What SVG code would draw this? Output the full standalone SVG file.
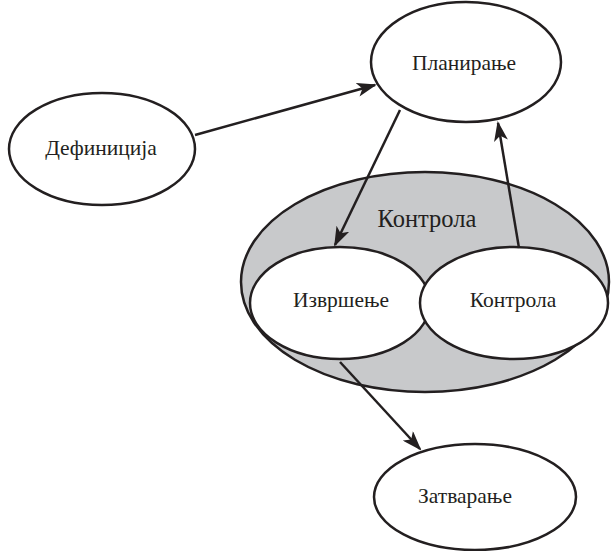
<svg xmlns="http://www.w3.org/2000/svg" width="611" height="551" viewBox="0 0 611 551">
<style>
.n{fill:#fff;stroke:#231f20;stroke-width:2.5}
.g{fill:#c8c9cb;stroke:#231f20;stroke-width:2.5}
.t{font-family:"Liberation Serif","Times New Roman",serif;font-size:21.5px;fill:#231f20;text-anchor:middle}
.c{stroke:#231f20;stroke-width:2.5;fill:none;marker-end:url(#ah)}
</style>
<defs>
<marker id="ah" viewBox="0 0 20 14" refX="18" refY="7" markerWidth="20" markerHeight="14" markerUnits="userSpaceOnUse" orient="auto">
<path d="M0,0 L20,7 L0,14 L5,7 Z" fill="#231f20"/>
</marker>
</defs>
<rect width="611" height="551" fill="#fff"/>
<g id="kontrola-group">
<ellipse class="g" cx="425" cy="282" rx="184" ry="110"/>
<text class="t" x="427" y="227" style="font-size:24.5px">Контрола</text>
</g>
<g id="definicija">
<ellipse class="n" cx="102" cy="149" rx="93" ry="56"/>
<text class="t" x="101" y="155">Дефиниција</text>
</g>
<g id="planiranje">
<ellipse class="n" cx="466" cy="62" rx="95" ry="60"/>
<text class="t" x="464" y="70">Планирање</text>
</g>
<g id="izvrsenje">
<ellipse class="n" cx="340" cy="303" rx="90" ry="56"/>
<text class="t" x="341" y="307">Извршење</text>
</g>
<g id="kontrola">
<ellipse class="n" cx="514" cy="303" rx="94" ry="56"/>
<text class="t" x="513" y="307">Контрола</text>
</g>
<g id="zatvaranje">
<ellipse class="n" cx="475" cy="497" rx="101" ry="53"/>
<text class="t" x="465" y="503">Затварање</text>
</g>
<g id="connectors">
<line class="c" x1="195" y1="135" x2="375" y2="85"/>
<line class="c" x1="400" y1="110" x2="335" y2="245"/>
<line class="c" x1="519" y1="248" x2="498" y2="123"/>
<line class="c" x1="340" y1="362" x2="420" y2="449"/>
</g>
</svg>
